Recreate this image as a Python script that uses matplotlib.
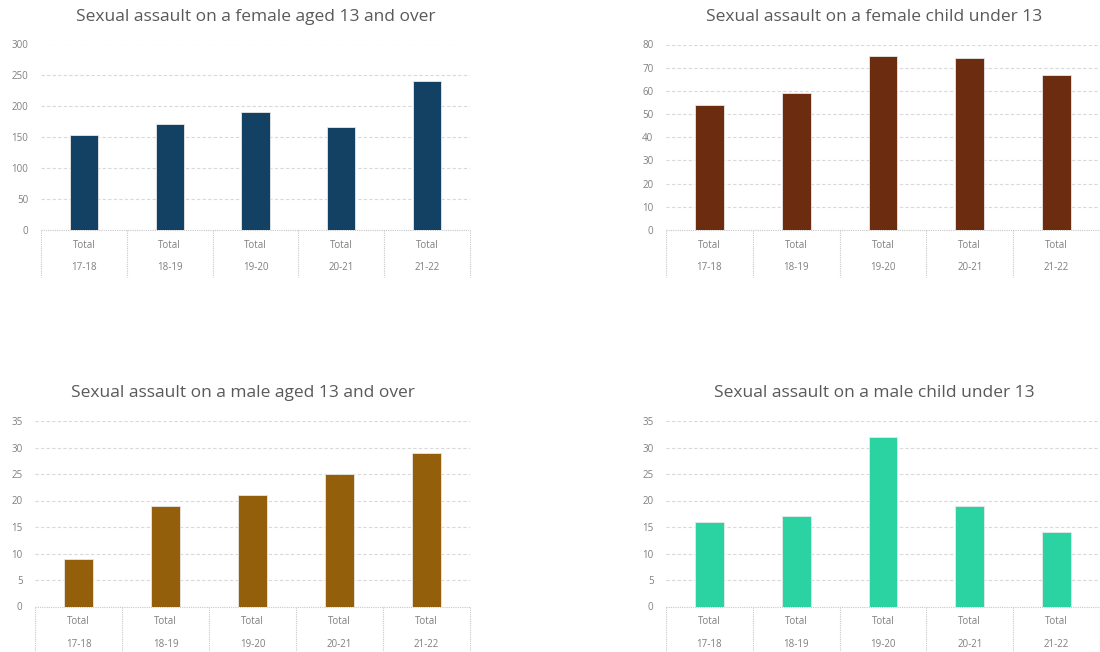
import matplotlib
matplotlib.use("Agg")
from matplotlib import pyplot as plt
from matplotlib.transforms import blended_transform_factory
import numpy as np

years = ['17-18', '18-19', '19-20', '20-21', '21-22']
group = 'Total'

female_13_over = [153, 171, 191, 166, 241]
female_under_13 = [54, 59, 75, 74, 67]
male_13_over = [9, 19, 21, 25, 29]
male_under_13 = [16, 17, 32, 19, 14]

titles = ['Sexual assault on a female aged 13 and over',
          'Sexual assault on a female child under 13',
          'Sexual assault on a male aged 13 and over',
          'Sexual assault on a male child under 13']
series = [female_13_over, female_under_13, male_13_over, male_under_13]
colors = ['#134163', '#6b2c10', '#935f0b', '#2bd2a2']
y_max = [300, 80, 35, 35]
y_step = [50, 10, 5, 5]

# axes boxes in pixels: left, right, top, bottom
boxes = [(41, 470, 44.5, 230),
         (666, 1100, 44.5, 230),
         (35, 470, 421, 606.5),
         (666, 1100, 421, 606.5)]
# title centres in pixels
title_pos = [(256, 17), (874, 17), (243, 393), (874, 393)]

plt.rcParams['font.family'] = ['Open Sans', 'DejaVu Sans']

W, H = 1100, 652
fig = plt.figure(figsize=(W / 100, H / 100), dpi=100)
fig.patch.set_facecolor('white')

grid_col = '#d9d9d9'
text_col = '#7f7f7f'

for values, title, color, ymax, step, (l, r, t, b), (tx, ty) in zip(
        series, titles, colors, y_max, y_step, boxes, title_pos):
    ax = fig.add_axes([l / W, (H - b) / H, (r - l) / W, (b - t) / H])
    x = np.arange(len(years))
    ax.bar(x, values, width=0.33, color=color, edgecolor='#e8e8e8', linewidth=0.6, zorder=3)
    ax.set_xlim(-0.5, len(years) - 0.5)
    ax.set_ylim(0, ymax)
    ax.set_yticks(np.arange(0, ymax + 1, step))
    ax.yaxis.grid(True, color=grid_col, linestyle=(0, (3, 2)), linewidth=0.8, zorder=0)
    for s in ax.spines.values():
        s.set_visible(False)
    ax.tick_params(axis='y', length=0, labelsize=7, labelcolor=text_col, pad=9)
    ax.set_xticks([])

    # category table under the axis
    trans = blended_transform_factory(ax.transData, ax.transAxes)
    depth = 47 / (b - t)
    ax.plot([-0.5, len(years) - 0.5], [0, 0], transform=trans, color='#c8c8c8',
            linestyle=(0, (1, 1)), linewidth=0.8, clip_on=False)
    for i in range(len(years) + 1):
        ax.plot([i - 0.5, i - 0.5], [0, -depth], transform=trans, color='#c8c8c8',
                linestyle=(0, (1, 1)), linewidth=0.8, clip_on=False)
    for i, yr in enumerate(years):
        ax.text(i, -15 / (b - t), group, transform=trans, ha='center', va='center',
                fontsize=7, color=text_col)
        ax.text(i, -38 / (b - t), yr, transform=trans, ha='center', va='center',
                fontsize=7, color=text_col)

    fig.text(tx / W, 1 - ty / H, title, ha='center', va='center',
             fontsize=12.5, color='#595959')

fig.savefig('out.png', dpi=100, facecolor='white')
